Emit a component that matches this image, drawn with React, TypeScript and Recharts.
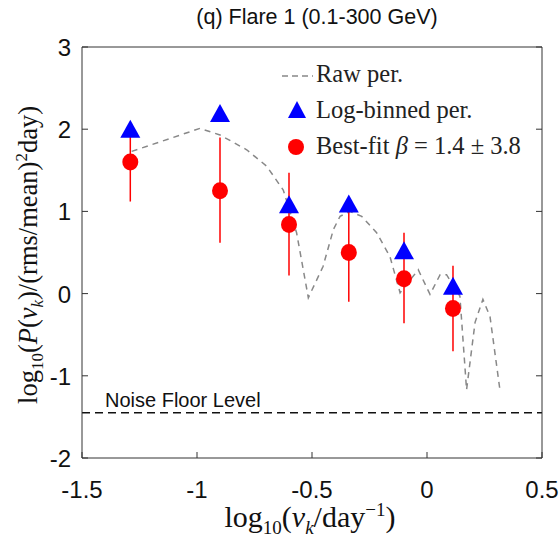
import React from 'react';
import {
  ComposedChart,
  Line,
  Scatter,
  ErrorBar,
  XAxis,
  YAxis,
  ReferenceLine,
  Legend,
} from 'recharts';

// raw periodogram (dashed grey curve)
const rawX = [-1.284, -0.987, -0.9, -0.784, -0.697, -0.625, -0.567, -0.516, -0.452, -0.407, -0.378, -0.335, -0.284, -0.219, -0.161, -0.117, -0.038, 0.013, 0.057, 0.085, 0.143, 0.172, 0.209, 0.243, 0.274, 0.317];
const rawY = [1.73, 2.01, 1.93, 1.75, 1.55, 1.26, 0.74, -0.05, 0.33, 0.78, 0.94, 1.0, 0.94, 0.74, 0.45, 0.01, 0.29, -0.01, 0.23, 0.23, -0.03, -1.17, -0.35, -0.07, -0.28, -1.17];

// log-binned periodogram (blue triangles)
const binX = [-1.29, -0.9, -0.6, -0.34, -0.1, 0.113];
const binY = [2.0, 2.19, 1.08, 1.09, 0.52, 0.09];

// best-fit points with error bars (red)
const fitY = [1.6, 1.25, 0.84, 0.5, 0.18, -0.18];
const fitHi = [2.09, 1.9, 1.47, 1.14, 0.74, 0.34];
const fitLo = [1.12, 0.62, 0.22, -0.1, -0.36, -0.7];

const xTicks = [-1.5, -1, -0.5, 0, 0.5];
const yTicks = [-2, -1, 0, 1, 2, 3];
const noiseFloor = -1.45;

const rawData = rawX.map((x, i) => ({ x, y: rawY[i] }));
const binData = binX.map((x, i) => ({ x, y: binY[i] }));
const fitData = binX.map((x, i) => ({
  x,
  y: fitY[i],
  err: [fitY[i] - fitLo[i], fitHi[i] - fitY[i]],
}));

const sans = '"Liberation Sans", Arial, sans-serif';
const serif = '"Liberation Serif", "Times New Roman", serif';
const axisColor = '#333';
const BLUE = '#0000ff';
const RED = '#ff0000';

const BottomTick = ({ x, y, payload }: any) => (
  <g>
    <line x1={x} x2={x} y1={y} y2={y - 6} stroke={axisColor} />
    <text x={x} y={y + 40} textAnchor="middle" fontFamily={sans} fontSize={24} fill="#111">
      {String(payload.value)}
    </text>
  </g>
);

const TopTick = ({ x, y }: any) => (
  <line x1={x} x2={x} y1={y} y2={y + 6} stroke={axisColor} />
);

const LeftTick = ({ x, y, payload }: any) => (
  <g>
    <line x1={x} x2={x + 6} y1={y} y2={y} stroke={axisColor} />
    <text x={x - 11} y={y + 9} textAnchor="end" fontFamily={sans} fontSize={24} fill="#111">
      {String(payload.value)}
    </text>
  </g>
);

const RightTick = ({ x, y }: any) => (
  <line x1={x} x2={x - 6} y1={y} y2={y} stroke={axisColor} />
);

const Triangle = ({ cx, cy }: any) => (
  <path d={`M${cx},${cy - 9.5} L${cx + 10},${cy + 8.5} L${cx - 10},${cy + 8.5} Z`} fill={BLUE} />
);

const Dot = ({ cx, cy }: any) => <ellipse cx={cx} cy={cy} rx={8} ry={8.5} fill={RED} />;

const NoiseLabel = ({ viewBox }: any) => (
  <text x={viewBox.x + 23} y={viewBox.y - 6} fontFamily={sans} fontSize={20} fill="#111">
    Noise Floor Level
  </text>
);

const LegendBox = () => (
  <div style={{ fontFamily: serif, fontSize: 24.5, color: '#222', lineHeight: '36px' }}>
    <div style={{ display: 'flex', alignItems: 'center' }}>
      <svg width={36} height={36}>
        <line x1={2} x2={33} y1={20} y2={20} stroke="#888" strokeWidth={1.5} strokeDasharray="6 4" />
      </svg>
      <span>Raw per.</span>
    </div>
    <div style={{ display: 'flex', alignItems: 'center' }}>
      <svg width={36} height={36}>
        <path d="M17,9 L26,26 L8,26 Z" fill={BLUE} />
      </svg>
      <span>Log-binned per.</span>
    </div>
    <div style={{ display: 'flex', alignItems: 'center' }}>
      <svg width={36} height={36}>
        <circle cx={16} cy={19} r={8} fill={RED} />
      </svg>
      <span>
        Best-fit <i>β</i> = 1.4 ± 3.8
      </span>
    </div>
  </div>
);

export default function App() {
  return (
    <div style={{ position: 'absolute', left: 0, top: 0, width: 560, height: 547, background: '#fff' }}>
      <div
        style={{
          position: 'absolute',
          left: 0,
          width: 634,
          top: 5,
          textAlign: 'center',
          fontFamily: sans,
          fontSize: 21.5,
          color: '#111',
        }}
      >
        (q) Flare 1 (0.1-300 GeV)
      </div>
      <ComposedChart
        width={560}
        height={547}
        margin={{ top: 46, right: 17, bottom: 88, left: 0 }}
        style={{ position: 'absolute', left: 0, top: 0 }}
      >
        <XAxis
          xAxisId={0}
          dataKey="x"
          type="number"
          domain={[-1.5, 0.5]}
          ticks={xTicks}
          height={1}
          tickSize={0}
          tickMargin={0}
          tickLine={false}
          tick={<BottomTick />}
          axisLine={{ stroke: axisColor }}
          allowDataOverflow
        />
        <XAxis
          xAxisId="top"
          orientation="top"
          type="number"
          domain={[-1.5, 0.5]}
          ticks={xTicks}
          height={1}
          tickSize={0}
          tickMargin={0}
          tickLine={false}
          tick={<TopTick />}
          axisLine={{ stroke: axisColor }}
          allowDataOverflow
        />
        <YAxis
          yAxisId={0}
          type="number"
          domain={[-2, 3]}
          ticks={yTicks}
          width={82}
          tickSize={0}
          tickMargin={0}
          tickLine={false}
          tick={<LeftTick />}
          axisLine={{ stroke: axisColor }}
          allowDataOverflow
        />
        <YAxis
          yAxisId="right"
          orientation="right"
          type="number"
          domain={[-2, 3]}
          ticks={yTicks}
          width={1}
          tickSize={0}
          tickMargin={0}
          tickLine={false}
          tick={<RightTick />}
          axisLine={{ stroke: axisColor }}
          allowDataOverflow
        />
        <ReferenceLine
          y={noiseFloor}
          stroke="#111"
          strokeWidth={1.5}
          strokeDasharray="8 5"
          label={<NoiseLabel />}
        />
        <Line
          data={rawData}
          dataKey="y"
          type="linear"
          stroke="#888"
          strokeWidth={1.5}
          strokeDasharray="6 5"
          dot={false}
          activeDot={false}
          isAnimationActive={false}
        />
        <Scatter data={binData} dataKey="y" shape={<Triangle />} isAnimationActive={false} />
        <Scatter data={fitData} dataKey="y" shape={<Dot />} isAnimationActive={false}>
          <ErrorBar dataKey="err" direction="y" width={0} stroke={RED} strokeWidth={1.5} isAnimationActive={false} />
        </Scatter>
        <Legend
          layout="vertical"
          align="center"
          verticalAlign="middle"
          content={<LegendBox />}
          wrapperStyle={{ left: 280, top: 56, width: 270, height: 110 }}
        />
      </ComposedChart>
      <div
        style={{
          position: 'absolute',
          left: 0,
          width: 620,
          top: 499,
          textAlign: 'center',
          fontFamily: serif,
          fontSize: 30,
          color: '#111',
        }}
      >
        log<sub style={{ fontSize: 19 }}>10</sub>(<i>ν</i>
        <sub style={{ fontSize: 19 }}>
          <i>k</i>
        </sub>
        /day<sup style={{ fontSize: 19 }}>−1</sup>)
      </div>
      <div
        style={{
          position: 'absolute',
          left: 30,
          top: 255,
          width: 0,
          height: 0,
        }}
      >
        <div
          style={{
            position: 'absolute',
            transform: 'translate(-50%, -50%) rotate(-90deg)',
            whiteSpace: 'nowrap',
            fontFamily: serif,
            fontSize: 26.5,
            color: '#111',
          }}
        >
          log<sub style={{ fontSize: 17 }}>10</sub>(<i>P</i>(<i>ν</i>
          <sub style={{ fontSize: 17 }}>
            <i>k</i>
          </sub>
          )/(rms/mean)<sup style={{ fontSize: 17 }}>2</sup>day)
        </div>
      </div>
    </div>
  );
}
